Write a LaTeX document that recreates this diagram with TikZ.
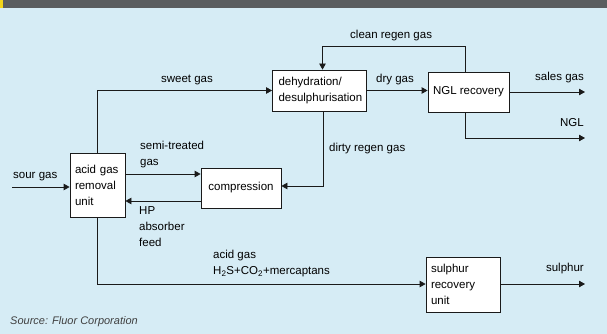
\documentclass[tikz,border=0pt]{standalone}
\usepackage{fontspec}
\setmainfont{Liberation Sans}
\usetikzlibrary{arrows.meta}
\definecolor{bgblue}{HTML}{D6ECF5}
\definecolor{bandgrey}{HTML}{5A5D5F}
\definecolor{bandyellow}{HTML}{F2D51A}
\definecolor{linecol}{HTML}{1A1A1A}
\begin{document}
\begin{tikzpicture}[x=1pt,y=-1pt,
  font=\fontsize{11.5}{16}\selectfont,
  unitbox/.style={draw=linecol, line width=0.8pt, fill=white, inner xsep=5pt, inner ysep=0pt, align=left, text=black},
  cbox/.style={draw=linecol, line width=0.8pt, fill=white, inner sep=0pt, align=center, text=black},
  flow/.style={draw=linecol, line width=0.8pt, -{Triangle[length=6pt,width=6.5pt]}},
  lbl/.style={inner sep=0pt, align=left, text=black}
]
\useasboundingbox (0,0) rectangle (607,334);
\fill[bgblue] (0,0) rectangle (607,334);
\fill[bandgrey] (0,0) rectangle (607,8);
\fill[bandyellow] (0,0) rectangle (3,8);

% boxes
\node[unitbox, text width=45pt, minimum height=64pt] (agru) at (97.5,185) {acid gas\\removal\\unit};
\node[unitbox, inner xsep=6pt, text width=82pt, minimum height=41pt] (dehy) at (319.5,90.5) {dehydration/\\desulphurisation};
\node[cbox, minimum width=81pt, minimum height=40pt] (ngl) at (468.5,92) {NGL recovery};
\node[cbox, minimum width=80pt, minimum height=40pt] (comp) at (241,188) {compression};
\node[unitbox, text width=64pt, minimum height=55pt] (sru) at (463,284.5) {sulphur\\recovery\\unit};

% free ends
\coordinate (sourin) at (12,187);
\coordinate (salesout) at (585,92);
\coordinate (nglout) at (585,138);
\coordinate (sulout) at (585,284);
\coordinate (cleantop) at (0,46);
\coordinate (dirtyy) at (0,186);
\coordinate (acidy) at (0,284);
\coordinate (ngltop) at ([xshift=-3.5pt]ngl.north);
\coordinate (dehytop) at ([xshift=3pt]dehy.north);

% connectors
\draw[flow] (sourin) -- (sourin -| agru.west);
\draw[flow] (agru.north) |- (dehy.west);
\draw[flow] (dehy.east) -- (dehy.east -| ngl.west);
\draw[flow] (ngl.east |- salesout) -- (salesout);
\draw[flow] ([xshift=-3.5pt]ngl.south) |- (nglout);
\draw[flow] (ngltop) -- (ngltop |- cleantop) -| (dehytop);
\draw[flow] ([xshift=3.5pt]dehy.south) |- (dirtyy -| comp.east);
\draw[flow] ([yshift=11pt]agru.east) -- ([yshift=11pt]agru.east -| comp.west);
\draw[flow] ([yshift=-16pt]agru.east -| comp.west) -- ([yshift=-16pt]agru.east);
\draw[flow] (agru.south) |- (acidy -| sru.west);
\draw[flow] (sru.east |- sulout) -- (sulout);

% labels
\node[lbl, anchor=west] (lsour) at (13,177) {sour gas};
\node[lbl] (lsweet) at (187,80) {sweet gas};
\node[lbl, anchor=west] (lclean) at (350,36) {clean regen gas};
\node[lbl] (ldry) at (395,80) {dry gas};
\node[lbl, anchor=east] (lsales) at (584,78) {sales gas};
\node[lbl, anchor=east] (lngl) at (584,123) {NGL};
\node[lbl, anchor=west] (lsemi) at (140,154.5) {semi-treated\\gas};
\node[lbl, anchor=west] (ldirty) at (329,149) {dirty regen gas};
\node[lbl, anchor=west] (lhp) at (139,227) {HP\\absorber\\feed};
\node[lbl, anchor=west] (lacid) at (213,264) {acid gas\\H\textsubscript{2}S+CO\textsubscript{2}+mercaptans};
\node[lbl, anchor=east] (lsul) at (584,269) {sulphur};
\node[lbl, anchor=west, font=\fontsize{11}{13}\selectfont\itshape, text=black!75] (lsrc) at (10,322) {Source: Fluor Corporation};
\end{tikzpicture}
\end{document}
